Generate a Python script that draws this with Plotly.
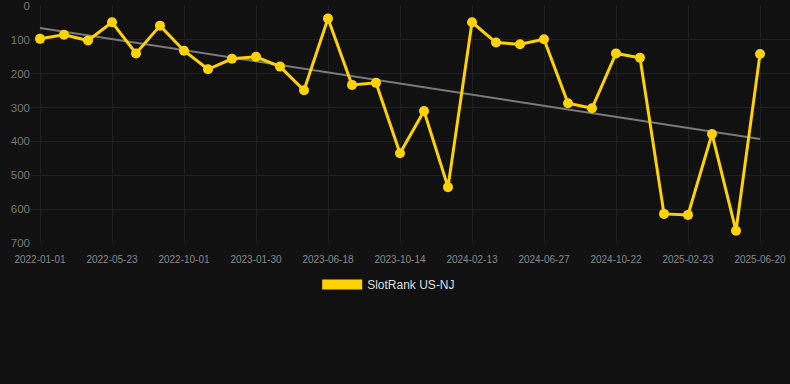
import plotly.graph_objects as go

dates = [
    "2022-01-01", "2022-02-17", "2022-04-06", "2022-05-23", "2022-07-06", "2022-08-18",
    "2022-10-01", "2022-11-10", "2022-12-20", "2023-01-30", "2023-03-17", "2023-05-02",
    "2023-06-18", "2023-07-27", "2023-09-04", "2023-10-14", "2023-11-24", "2024-01-03",
    "2024-02-13", "2024-03-29", "2024-05-13", "2024-06-27", "2024-08-05", "2024-09-13",
    "2024-10-22", "2024-12-02", "2025-01-12", "2025-02-23", "2025-04-03", "2025-05-12",
    "2025-06-20",
]
rank = [97, 85, 102, 48, 140, 58, 132, 187, 156, 150, 179, 249, 37, 233, 227, 435,
        310, 535, 48, 108, 113, 98, 287, 302, 140, 153, 614, 617, 378, 664, 142]
trend_x = [dates[0], dates[-1]]
trend_y = [65, 393]
tick_labels = dates[::3]
y_ticks = [0, 100, 200, 300, 400, 500, 600, 700]
series_name = "SlotRank US-NJ"

GOLD = "#ffd200"
BG = "#111111"

fig = go.Figure()
fig.add_trace(go.Scatter(
    x=trend_x, y=trend_y, mode="lines",
    line=dict(color="#7a7a7a", width=2), showlegend=False, hoverinfo="skip",
    cliponaxis=False,
))
fig.add_trace(go.Scatter(
    x=dates, y=rank, mode="lines+markers", name=series_name,
    line=dict(color=GOLD, width=3), marker=dict(color=GOLD, size=10),
    showlegend=False, cliponaxis=False,
))
fig.add_trace(go.Scatter(
    x=[None], y=[None], mode="lines", name=series_name,
    line=dict(color=GOLD, width=12), showlegend=True,
))

fig.update_layout(
    width=790, height=384,
    paper_bgcolor=BG, plot_bgcolor=BG,
    margin=dict(l=31, r=0, t=6, b=141),
    font=dict(family="Liberation Sans, Arial, sans-serif", color="#888888"),
    showlegend=True,
    legend=dict(
        orientation="h", xref="container", x=0.492, xanchor="center",
        yref="container", y=0.259, yanchor="middle",
        font=dict(size=12, color="#dddddd"), itemwidth=40,
        bgcolor="rgba(0,0,0,0)",
    ),
    xaxis=dict(
        type="category", categoryorder="array", categoryarray=dates,
        range=[-0.375, 31.25], automargin=False,
        tickmode="array", tickvals=tick_labels, ticktext=tick_labels,
        tickfont=dict(size=10, color="#888888"), ticklabelstandoff=9,
        showgrid=True, gridcolor="#202020", gridwidth=1,
        zeroline=False, showline=False, ticks="",
    ),
    yaxis=dict(
        range=[700, 0], tickvals=y_ticks, automargin=False,
        tickfont=dict(size=11.5, color="#777777"),
        showgrid=True, gridcolor="#202020", gridwidth=1,
        zeroline=False, showline=False, ticks="",
    ),
)

fig.write_html(
    "out.html",
    config={"displayModeBar": False},
    post_script="document.body.style.margin='0';document.body.style.background='#111111';",
)
